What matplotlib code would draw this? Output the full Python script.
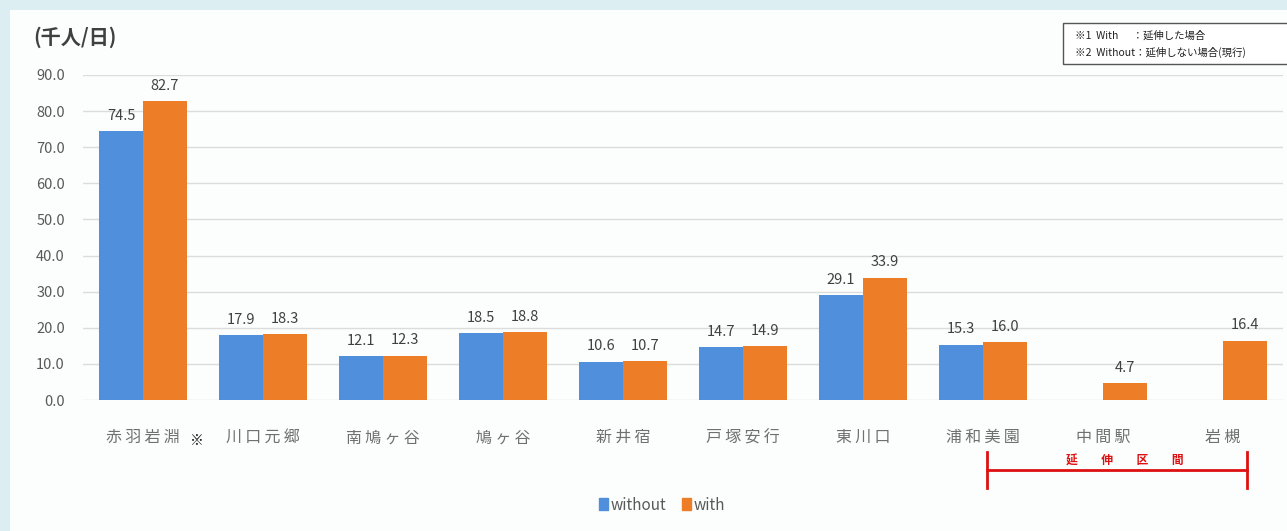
import numpy as np
import matplotlib
matplotlib.use("Agg")
import matplotlib.pyplot as plt
from matplotlib.patches import Rectangle, Patch
import matplotlib.transforms as mtransforms

plt.rcParams['font.family'] = ['Noto Sans CJK JP', 'DejaVu Sans']

categories = ['赤羽岩淵', '川口元郷', '南鳩ヶ谷', '鳩ヶ谷', '新井宿', '戸塚安行', '東川口', '浦和美園', '中間駅', '岩槻']
without_vals = [74.5, 17.9, 12.1, 18.5, 10.6, 14.7, 29.1, 15.3, np.nan, np.nan]
with_vals = [82.7, 18.3, 12.3, 18.8, 10.7, 14.9, 33.9, 16.0, 4.7, 16.4]
yticks = [0, 10, 20, 30, 40, 50, 60, 70, 80, 90]

W, H = 1287, 531
fig = plt.figure(figsize=(W / 100, H / 100), dpi=100)
fig.patch.set_facecolor('#dceef2')
# inner white panel
fig.patches.append(Rectangle((10 / W, 0), 1 - 10 / W, 1 - 10 / H, transform=fig.transFigure,
                             facecolor='#fcfefe', edgecolor='none', zorder=-5))

ax = fig.add_axes([83 / W, 1 - 400 / H, 1200 / W, 325 / H])
ax.set_zorder(1)
ax.set_facecolor('none')
x = np.arange(len(categories))
bw = 0.365
blue = '#4f8fdb'
orange = '#ee7d28'
ax.bar(x - bw / 2, without_vals, bw, color=blue, zorder=3)
ax.bar(x + bw / 2, with_vals, bw, color=orange, zorder=3)

for xi, v in zip(x - bw / 2, without_vals):
    if not np.isnan(v):
        ax.annotate(f'{v:.1f}', (xi, v), xytext=(0, 6), textcoords='offset points',
                    ha='center', va='bottom', fontsize=10.5, color='#404040')
for xi, v in zip(x + bw / 2, with_vals):
    ax.annotate(f'{v:.1f}', (xi, v), xytext=(0, 6), textcoords='offset points',
                ha='center', va='bottom', fontsize=10.5, color='#404040')

ax.set_xlim(-0.5, len(categories) - 0.5)
ax.set_ylim(0, 90)
ax.set_yticks(yticks)
ax.set_yticklabels([f'{t:.1f}' for t in yticks])
ax.yaxis.grid(True, color='#dcdcdc', linewidth=1, zorder=0)
ax.set_axisbelow(True)
for s in ax.spines.values():
    s.set_visible(False)
ax.tick_params(axis='y', length=0, pad=13, labelsize=10.5, labelcolor='#595959')
ax.set_xticks(x)
ax.set_xticklabels(['\u2009'.join(c) for c in categories], family=['Noto Sans CJK JP', 'DejaVu Sans'])
ax.tick_params(axis='x', length=0, pad=21, labelsize=11.5, labelcolor='#707070')

# ※ mark after 赤羽岩淵
fig.text(197 / W, 1 - 441 / H, '※', fontsize=10, color='#222222', ha='center', va='center')

# unit label
fig.text(33 / W, 1 - 37 / H, '(千人/日)', fontsize=14.5, fontweight='bold', color='#404040',
         ha='left', va='center')

# note box top right
fig.patches.append(Rectangle((1063 / W, 1 - 64 / H), (W - 1063) / W + 0.01, 41 / H,
                             transform=fig.transFigure, facecolor='white',
                             edgecolor='#555555', linewidth=1, zorder=5))
fig.text(1075 / W, 1 - 36 / H, '※1  With      ：延伸した場合', fontsize=7.5, color='#222222',
         ha='left', va='center', zorder=6)
fig.text(1075 / W, 1 - 52 / H, '※2  Without：延伸しない場合(現行)', fontsize=7.5, color='#222222',
         ha='left', va='center', zorder=6)

# extension section bracket
trans = mtransforms.blended_transform_factory(ax.transData, fig.transFigure)
x0, x1 = 7.03, 9.2
red = '#dd1111'
ax.plot([x0, x1], [1 - 470 / H, 1 - 470 / H], color=red, lw=2, transform=trans, clip_on=False)
ax.plot([x0, x0], [1 - 452 / H, 1 - 488 / H], color=red, lw=2, transform=trans, clip_on=False)
ax.plot([x1, x1], [1 - 452 / H, 1 - 488 / H], color=red, lw=2, transform=trans, clip_on=False)
ax.text(8.18, 1 - 461 / H, '延　　伸　　区　　間', transform=trans, color=red,
        fontsize=8.5, fontweight='bold', ha='center', va='center')

# legend
handles = [Patch(color=blue, label='without'), Patch(color=orange, label='with')]
fig.legend(handles=handles, loc='center', bbox_to_anchor=(662 / W, 1 - 505 / H), ncol=2,
           frameon=False, fontsize=11, handlelength=0.6, handleheight=0.8,
           handletextpad=0.2, columnspacing=1.0, labelcolor='#595959')

fig.savefig('out.png', dpi=100, facecolor=fig.get_facecolor())
